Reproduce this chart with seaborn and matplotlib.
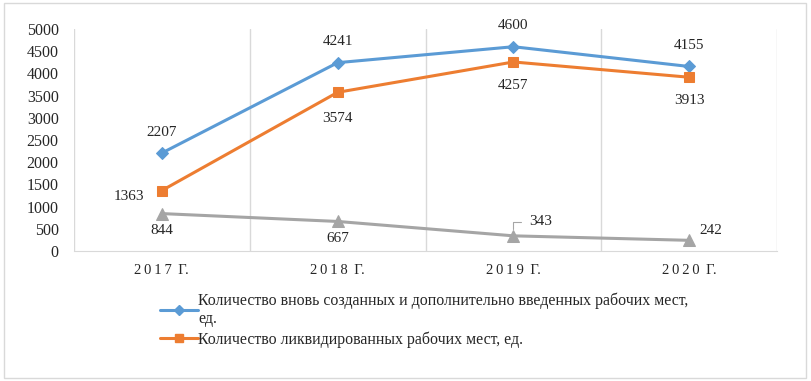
import pandas as pd
import matplotlib
matplotlib.use("Agg")
import matplotlib.pyplot as plt
import seaborn as sns
from matplotlib.patches import Rectangle
from matplotlib.lines import Line2D

# Data
years = ["2017 Г.", "2018 Г.", "2019 Г.", "2020 Г."]
created = [2207, 4241, 4600, 4155]
liquidated = [1363, 3574, 4257, 3913]
third = [844, 667, 343, 242]

label_created = "Количество вновь созданных и дополнительно введенных рабочих мест,\nед."
label_liquidated = "Количество ликвидированных рабочих мест, ед."

sns.set_style("white")
plt.rcParams["font.family"] = ["Liberation Serif", "DejaVu Serif"]

blue, orange, gray = "#5B9BD5", "#ED7D31", "#A5A5A5"

fig = plt.figure(figsize=(8.11, 3.81), dpi=100)
ax = fig.add_axes([0.0912, 0.341, 0.867, 0.583])

df = pd.DataFrame({"year": years, "created": created, "liquidated": liquidated, "third": third})

sns.lineplot(data=df, x="year", y="created", ax=ax, color=blue, marker="D",
             markersize=6, linewidth=2.2, markeredgecolor=blue, sort=False)
sns.lineplot(data=df, x="year", y="liquidated", ax=ax, color=orange, marker="s",
             markersize=7, linewidth=2.2, markeredgecolor=orange, sort=False)
sns.lineplot(data=df, x="year", y="third", ax=ax, color=gray, marker="^",
             markersize=8, linewidth=2.2, markeredgecolor=gray, sort=False)

ax.set_xlim(-0.5, 3.5)
ax.set_ylim(0, 5000)
ax.set_yticks(range(0, 5001, 500))
ax.set_xticks(range(len(years)))
# the category labels in the reference are letter-spaced
ax.set_xticklabels(["\u2009".join(y.split(" ")[0]) + " \u2009" + y.split(" ")[1] for y in years])
ax.set_xlabel("")
ax.set_ylabel("")
ax.tick_params(axis="y", labelsize=11.5, length=0, pad=11)
ax.tick_params(axis="x", labelsize=10.5, length=0, pad=9)
ax.set_xticks([-0.5, 0.5, 1.5, 2.5, 3.5], minor=True)
ax.grid(which="minor", axis="x", color="#D9D9D9", linewidth=1)
ax.grid(which="major", axis="both", visible=False)
for s in ["top", "right", "left"]:
    ax.spines[s].set_visible(False)
ax.spines["bottom"].set_color("#D9D9D9")

# data labels (offsets in points)
offsets_c = [(0, 15), (0, 15), (0, 15), (0, 15)]
offsets_l = [(-24, -4), (0, -19), (0, -17), (0, -17)]
offsets_t = [(0, -12), (0, -12), (11, 10), (7, 7)]
for i, v in enumerate(created):
    ax.annotate(str(v), (i, v), xytext=offsets_c[i], textcoords="offset points",
                ha="center", va="center", fontsize=11)
for i, v in enumerate(liquidated):
    ax.annotate(str(v), (i, v), xytext=offsets_l[i], textcoords="offset points",
                ha="center", va="center", fontsize=11)
for i, v in enumerate(third):
    if i == 2:
        # label with a leader line
        ax.annotate(str(v), (i, v), xytext=offsets_t[i], textcoords="offset points",
                    ha="left", va="center", fontsize=11,
                    arrowprops=dict(arrowstyle="-", color="#A6A6A6", lw=0.8,
                                    shrinkA=3, shrinkB=5,
                                    connectionstyle="angle,angleA=0,angleB=90,rad=0"))
    else:
        ax.annotate(str(v), (i, v), xytext=offsets_t[i], textcoords="offset points",
                    ha="left" if i == 3 else "center", va="center", fontsize=11)

# legend below the chart
handles = [Line2D([0], [0], color=blue, marker="D", markersize=5, linewidth=2.2),
           Line2D([0], [0], color=orange, marker="s", markersize=6, linewidth=2.2)]
fig.legend(handles, [label_created, label_liquidated], loc="upper left",
           bbox_to_anchor=(0.19, 0.25), frameon=False, fontsize=11.4,
           handlelength=2.4, handletextpad=0.0, labelspacing=0.28, borderaxespad=0)

# outer border
fig.patches.append(Rectangle((0.005, 0.008), 0.989, 0.984, transform=fig.transFigure,
                             fill=False, edgecolor="#D9D9D9", linewidth=1))

fig.savefig("out.png", dpi=100)
